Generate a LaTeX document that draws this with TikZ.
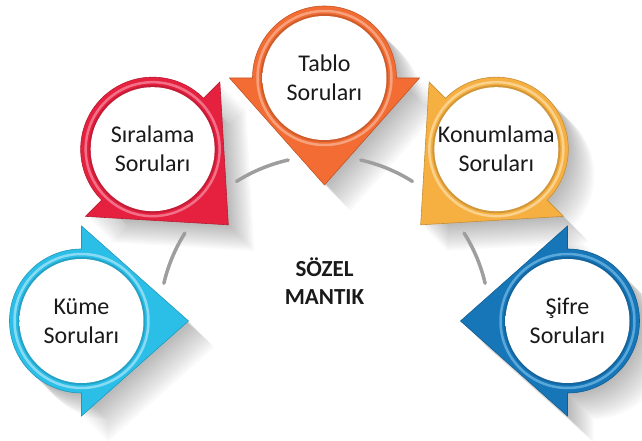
\documentclass[tikz,border=0pt]{standalone}
\usepackage{fontspec}
\setmainfont{Carlito}
\usetikzlibrary{calc}
\definecolor{kumeCyan}{HTML}{2BBFE8}
\definecolor{kumeLight}{HTML}{8ADAF3}
\definecolor{siraRed}{HTML}{E5213F}
\definecolor{siraLight}{HTML}{F27088}
\definecolor{tabloOrange}{HTML}{F26C33}
\definecolor{tabloLight}{HTML}{F7A27C}
\definecolor{konumGold}{HTML}{F6B042}
\definecolor{konumLight}{HTML}{FAD28E}
\definecolor{sifreBlue}{HTML}{1676B8}
\definecolor{sifreLight}{HTML}{5AA8DA}
\definecolor{ringGray}{HTML}{9E9E9E}
\definecolor{textDark}{HTML}{1A1A1A}

% circle with a pointed corner, tip along +x
\newcommand{\petalpath}{(0,95) -- (107,0) -- (0,-95) -- (0,-72)
  arc[start angle=-90, end angle=-270, radius=72] -- cycle}

\pgfdeclareradialshading{discshade}{\pgfpoint{0bp}{0bp}}{%
  color(0bp)=(white); color(32bp)=(white); color(50bp)=(black!24)}

\begin{document}
\begin{tikzpicture}[
    x=1pt, y=1pt,
    petal text/.style={
        text=textDark,
        align=center,
        font=\fontsize{24}{29}\selectfont
    },
    title text/.style={
        text=textDark,
        align=center,
        font=\fontsize{23}{28}\selectfont\bfseries
    },
    ring arc/.style={
        draw=ringGray,
        line width=3.5pt,
        line cap=round
    }
]
\useasboundingbox (-324.5,-120) rectangle (317.5,321);

% -------------------- Long shadows --------------------------
\foreach \ang in {180,135,90,45,0}{
  \foreach \s in {2,4,...,26}{
    \fill[black, opacity=0.024, shift={(\s,-\s)}, shift={(\ang:243)},
          rotate=\ang+180] \petalpath;
  }
}

% -------------------- Gray ring segments --------------------
\foreach \a/\b in {166.8/147.8, 122.2/102.7, 77.3/57.8, 32.2/13.2}{
  \draw[ring arc] (\a:165) arc[start angle=\a, end angle=\b, radius=165];
}

% -------------------- Petals --------------------------------
\foreach \ang/\main/\light in {180/kumeCyan/kumeLight,
    135/siraRed/siraLight, 90/tabloOrange/tabloLight,
    45/konumGold/konumLight, 0/sifreBlue/sifreLight}{
  \begin{scope}[shift={(\ang:243)}, rotate=\ang+180]
    \fill[\main] \petalpath;
    \draw[\main!80!black, line width=0.6pt] \petalpath;
    \draw[\light, line width=2.5pt] (0,0) circle[radius=67];
    \fill[\main!85!black] (0,0) circle[radius=64];
    \shade[shading=discshade] (0,0) circle[radius=62];
  \end{scope}
}

% -------------------- Labels --------------------------------
\node[petal text] (kume)  at (180:243) {Küme\\Soruları};
\node[petal text] (sira)  at (135:243) {Sıralama\\Soruları};
\node[petal text] (tablo) at (90:243)  {Tablo\\Soruları};
\node[petal text] (konum) at (45:243)  {Konumlama\\Soruları};
\node[petal text] (sifre) at (0:243)   {Şifre\\Soruları};

\node[title text] (sozel) at (0,40) {SÖZEL\\MANTIK};

\end{tikzpicture}
\end{document}
